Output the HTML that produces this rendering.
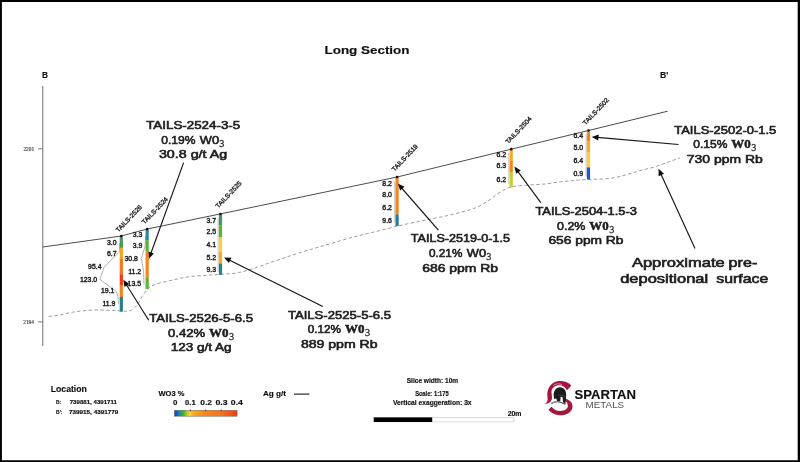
<!DOCTYPE html>
<html><head><meta charset="utf-8">
<style>
html,body{margin:0;padding:0;background:#fff;}
body{width:800px;height:462px;overflow:hidden;}
svg{display:block;font-family:"Liberation Sans",sans-serif;}
.ann{font-size:11.7px;fill:#1c1c1c;stroke:#1c1c1c;stroke-width:0.6px;}
.ser{font-family:"Liberation Serif",serif;}
.val{font-size:6.9px;fill:#222;stroke:#222;stroke-width:0.42px;text-anchor:end;}
.hn{font-size:6.4px;fill:#222;stroke:#222;stroke-width:0.36px;}
.b{font-weight:bold;fill:#111;stroke:#111;stroke-width:0.15px;}
.ptr{stroke:#151515;stroke-width:1.15;fill:none;}
</style></head>
<body>
<svg width="800" height="462" viewBox="0 0 800 462">
<defs>
<linearGradient id="cb" x1="0" x2="1" y1="0" y2="0">
<stop offset="0" stop-color="#0a48d6"/><stop offset="0.04" stop-color="#0a5ad0"/><stop offset="0.09" stop-color="#1f9a7a"/><stop offset="0.14" stop-color="#3fae2e"/><stop offset="0.2" stop-color="#b5cc2a"/><stop offset="0.245" stop-color="#f7d22c"/><stop offset="0.3" stop-color="#fbae20"/><stop offset="0.45" stop-color="#fa8c1a"/><stop offset="0.75" stop-color="#f8701a"/><stop offset="1" stop-color="#f23c10"/>
</linearGradient>
<filter id="bl" x="0" y="0" width="800" height="462" filterUnits="userSpaceOnUse"><feGaussianBlur stdDeviation="0.3"/></filter>
</defs>
<rect x="0" y="0" width="800" height="462" fill="#fff"/>
<g filter="url(#bl)">

<text class="b" x="324.5" y="54.1" font-size="11.7" stroke="#111" stroke-width="0.55" textLength="85" lengthAdjust="spacingAndGlyphs">Long Section</text>
<text class="b" x="42.1" y="77.7" font-size="8.7" stroke-width="0.3" textLength="6" lengthAdjust="spacingAndGlyphs">B</text>
<text class="b" x="660.1" y="77.7" font-size="8.7" stroke-width="0.3">B'</text>
<path d="M42.7,86 V346" stroke="#969696" stroke-width="1.35" fill="none"/>
<path d="M38,148.8 H42.7 M38,321.9 H42.7" stroke="#555" stroke-width="0.8" fill="none"/>
<text class="ser" x="23.4" y="150.7" font-size="6" fill="#333" stroke="#333" stroke-width="0.15" textLength="10.8" lengthAdjust="spacingAndGlyphs">2201</text>
<text class="ser" x="23.3" y="324" font-size="6" fill="#333" stroke="#333" stroke-width="0.15" textLength="10.6" lengthAdjust="spacingAndGlyphs">2194</text>
<path d="M42.8,247.0 L121.3,236.0 L147.2,229.0 L220.5,213.9 L397.1,177.0 L511.2,149.2 L588.5,130.5 L667.7,111.2" stroke="#383838" stroke-width="0.9" fill="none" stroke-linejoin="round"/>
<path d="M48.6,316.4 C50.5,316.2 56.0,315.7 60.0,315.0 C64.0,314.3 68.3,312.9 72.5,312.2 C76.7,311.5 80.4,311.0 85.0,310.6 C89.6,310.2 95.0,310.0 100.0,310.0 C105.0,310.0 110.4,310.3 115.0,310.5 C119.6,310.7 124.4,311.5 127.5,311.2 C130.6,310.9 131.9,310.1 133.8,308.6 C135.7,307.2 137.1,305.0 138.8,302.5 C140.5,300.0 141.9,296.4 143.8,293.8 C145.7,291.2 147.3,288.8 150.0,287.0 C152.7,285.2 155.8,284.2 160.0,283.0 C164.2,281.8 170.0,280.6 175.0,279.5 C180.0,278.4 184.2,277.4 190.0,276.6 C195.8,275.9 203.3,275.5 210.0,275.0 C216.7,274.5 225.0,274.1 230.0,273.7 C235.0,273.2 235.8,273.2 240.0,272.3 C244.2,271.4 250.0,269.6 255.0,268.0 C260.0,266.4 265.0,264.4 270.0,262.7 C275.0,261.0 280.0,259.3 285.0,257.6 C290.0,255.9 295.0,254.2 300.0,252.6 C305.0,251.0 310.0,249.7 315.0,248.2 C320.0,246.7 323.8,245.6 330.0,243.8 C336.2,242.0 345.8,239.1 352.5,237.3 C359.2,235.5 362.6,234.8 370.0,233.0 C377.4,231.2 388.7,228.2 397.0,226.2 C405.3,224.2 413.7,222.5 420.0,221.2 C426.3,219.9 430.0,219.2 435.0,218.2 C440.0,217.2 445.0,216.2 450.0,215.0 C455.0,213.8 460.4,212.5 465.0,211.2 C469.6,209.9 473.8,208.7 477.5,207.0 C481.2,205.3 484.2,203.4 487.5,201.2 C490.8,199.0 494.4,195.9 497.5,193.8 C500.6,191.7 503.3,190.1 506.2,188.8 C509.1,187.6 511.0,186.9 515.0,186.3 C519.0,185.7 525.0,185.4 530.0,185.0 C535.0,184.6 540.2,184.5 545.0,184.0 C549.8,183.5 554.6,182.5 558.8,182.0 C563.0,181.5 566.9,181.1 570.0,180.8 C573.1,180.5 574.4,180.3 577.5,180.1 C580.6,179.9 584.7,179.6 588.8,179.4 C592.9,179.2 597.5,179.3 601.9,179.0 C606.3,178.7 610.6,178.4 615.0,177.6 C619.4,176.8 623.7,175.4 628.1,174.2 C632.5,173.0 636.6,171.6 641.3,170.3 C646.0,169.0 651.3,168.0 656.3,166.4 C661.3,164.8 667.3,162.4 671.3,161.0 C675.2,159.6 678.5,158.3 680.0,157.8" stroke="#8e8e8e" stroke-width="0.85" stroke-dasharray="3.5 2.3" fill="none"/>
<path d="M119.6,243 L119.6,251.6 L104.1,267.2 L99.9,279.3 L116.3,291.5 L118,296.7 L118.4,303.8" stroke="#a2a2a2" stroke-width="0.85" fill="none" stroke-linejoin="round"/>
<path d="M145.5,236 L145.3,245.5 L141.3,258.5 L143.6,270.7 L144,284.5" stroke="#a2a2a2" stroke-width="0.85" fill="none" stroke-linejoin="round"/>
<path d="M218.1,218.0 V271.6" stroke="#b4b4b4" stroke-width="0.8" fill="none"/>
<path d="M394.7,180.8 V222.8" stroke="#b4b4b4" stroke-width="0.8" fill="none"/>
<path d="M508.8,153.0 V184.4" stroke="#b4b4b4" stroke-width="0.8" fill="none"/>
<path d="M586.1,134.5 V176.3" stroke="#b4b4b4" stroke-width="0.8" fill="none"/>
<rect x="119.72" y="237.2" width="3.2" height="10.7" fill="#3f9a5a"/>
<rect x="119.72" y="247.7" width="3.2" height="11.6" fill="#fba31e"/>
<rect x="119.72" y="259.1" width="3.2" height="15.3" fill="#f7751e"/>
<rect x="119.72" y="274.2" width="3.2" height="11.5" fill="#ee3a1a"/>
<rect x="119.72" y="285.5" width="3.2" height="11.6" fill="#f6841c"/>
<rect x="119.72" y="296.9" width="3.2" height="14.8" fill="#23808f"/>
<circle cx="121.3" cy="236.2" r="1.35" fill="#111"/>
<text class="hn" transform="translate(118.5,232.6) rotate(-46.5)" textLength="34.5" lengthAdjust="spacingAndGlyphs">TAILS-2526</text>
<rect x="145.57" y="230.0" width="3.2" height="10.5" fill="#2e8a98"/>
<rect x="145.57" y="240.3" width="3.2" height="11.4" fill="#5fb22f"/>
<rect x="145.57" y="251.5" width="3.2" height="26.7" fill="#f6841c"/>
<rect x="145.57" y="278.0" width="3.2" height="10.9" fill="#5fb22f"/>
<circle cx="147.2" cy="229.1" r="1.35" fill="#111"/>
<text class="hn" transform="translate(144.5,224.6) rotate(-46.5)" textLength="34.5" lengthAdjust="spacingAndGlyphs">TAILS-2524</text>
<rect x="218.88" y="215.0" width="3.2" height="10.5" fill="#3f9a5a"/>
<rect x="218.88" y="225.3" width="3.2" height="12.1" fill="#5fb22f"/>
<rect x="218.88" y="237.2" width="3.2" height="15.0" fill="#fccf30"/>
<rect x="218.88" y="252.0" width="3.2" height="11.7" fill="#fbab1e"/>
<rect x="218.88" y="263.5" width="3.2" height="11.3" fill="#23808f"/>
<circle cx="220.5" cy="214.0" r="1.35" fill="#111"/>
<text class="hn" transform="translate(218.3,208.6) rotate(-46.5)" textLength="34.5" lengthAdjust="spacingAndGlyphs">TAILS-2525</text>
<rect x="395.48" y="177.8" width="3.2" height="36.8" fill="#f6841c"/>
<rect x="395.48" y="214.4" width="3.2" height="11.6" fill="#23808f"/>
<circle cx="397.1" cy="177.0" r="1.35" fill="#111"/>
<text class="hn" transform="translate(394.6,171.8) rotate(-46.5)" textLength="34.5" lengthAdjust="spacingAndGlyphs">TAILS-2519</text>
<rect x="509.62" y="150.0" width="3.2" height="10.7" fill="#fbab1e"/>
<rect x="509.62" y="160.5" width="3.2" height="11.7" fill="#f6841c"/>
<rect x="509.62" y="172.0" width="3.2" height="15.6" fill="#c5cf2f"/>
<circle cx="511.2" cy="149.2" r="1.35" fill="#111"/>
<text class="hn" transform="translate(508.2,144.2) rotate(-46.5)" textLength="34.5" lengthAdjust="spacingAndGlyphs">TAILS-2504</text>
<rect x="586.88" y="131.5" width="3.2" height="9.9" fill="#f6841c"/>
<rect x="586.88" y="141.2" width="3.2" height="11.0" fill="#fbab1e"/>
<rect x="586.88" y="152.0" width="3.2" height="15.6" fill="#fccf30"/>
<rect x="586.88" y="167.4" width="3.2" height="12.1" fill="#1d57cf"/>
<circle cx="588.5" cy="130.5" r="1.35" fill="#111"/>
<text class="hn" transform="translate(585.6,125.4) rotate(-46.5)" textLength="34.5" lengthAdjust="spacingAndGlyphs">TAILS-2502</text>
<g class="val">
<text x="116.5" y="244.8">3.0</text>
<text x="116.5" y="256.4">6.7</text>
<text x="101.5" y="268.9">95.4</text>
<text x="97.2" y="281.9">123.0</text>
<text x="114.4" y="293.4">19.1</text>
<text x="115.4" y="306.4">11.9</text>
<text x="142.4" y="237.1">3.3</text>
<text x="142.4" y="248.4">3.9</text>
<text x="137.9" y="261.4">30.8</text>
<text x="141.2" y="274.4">11.2</text>
<text x="141.0" y="285.6">13.5</text>
<text x="216.1" y="222.5">3.7</text>
<text x="216.1" y="234.0">2.5</text>
<text x="216.1" y="246.9">4.1</text>
<text x="216.1" y="260.1">5.2</text>
<text x="216.1" y="272.1">9.3</text>
<text x="391.9" y="185.8">8.2</text>
<text x="391.9" y="196.9">8.0</text>
<text x="391.9" y="210.0">6.2</text>
<text x="391.9" y="223.1">9.6</text>
<text x="506.0" y="157.4">6.2</text>
<text x="506.0" y="168.2">6.3</text>
<text x="506.0" y="181.8">6.2</text>
<text x="583.0" y="137.9">6.4</text>
<text x="583.0" y="149.9">5.0</text>
<text x="583.0" y="162.9">6.4</text>
<text x="583.0" y="175.8">0.9</text>
</g>
<path class="ptr" d="M183.6,162.6 L150.9,253.3"/>
<path d="M148.9,258.8 L148.5,251.4 L153.9,253.4 Z" fill="#111"/>
<path class="ptr" d="M148.7,320.2 L126.4,284.7"/>
<path d="M123.3,279.8 L129.4,284.0 L124.5,287.1 Z" fill="#111"/>
<path class="ptr" d="M322.8,306.6 L229.3,260.0"/>
<path d="M224.1,257.4 L231.5,257.8 L228.9,263.0 Z" fill="#111"/>
<path class="ptr" d="M438.4,230.2 L401.6,188.0"/>
<path d="M397.8,183.6 L404.5,186.8 L400.1,190.6 Z" fill="#111"/>
<path class="ptr" d="M540.8,202.7 L517.8,171.3"/>
<path d="M514.4,166.6 L520.8,170.4 L516.1,173.8 Z" fill="#111"/>
<path class="ptr" d="M678.5,144.5 L597.5,137.4"/>
<path d="M591.7,136.9 L598.7,134.6 L598.2,140.4 Z" fill="#111"/>
<path class="ptr" d="M695.0,248.5 L660.9,174.1"/>
<path d="M658.5,168.8 L664.0,173.8 L658.7,176.2 Z" fill="#111"/>
<g class="ann">
<text x="146.2" y="129.3" textLength="94.0" lengthAdjust="spacingAndGlyphs">TAILS-2524-3-5</text>
<text x="161.2" y="143.6" textLength="34.2" lengthAdjust="spacingAndGlyphs">0.19%</text>
<text x="199.8" y="143.6" textLength="19.2" lengthAdjust="spacingAndGlyphs">W0</text>
<text class="ser" x="219.3" y="146.5" font-size="10.2" stroke-width="0.3" fill="#333" stroke="#333">3</text>
<text x="158.9" y="158.2" textLength="68.3" lengthAdjust="spacingAndGlyphs">30.8 g/t Ag</text>
<text x="674.3" y="133.6" textLength="101.9" lengthAdjust="spacingAndGlyphs">TAILS-2502-0-1.5</text>
<text x="693.3" y="148.2" textLength="34.1" lengthAdjust="spacingAndGlyphs">0.15%</text>
<text class="ser" x="731.3" y="148.2" font-weight="bold" font-size="13.2" stroke-width="0.5" textLength="19.4" lengthAdjust="spacingAndGlyphs">W0</text>
<text class="ser" x="751.3" y="151.1" font-size="10.2" stroke-width="0.3" fill="#333" stroke="#333">3</text>
<text x="686.8" y="162.8" textLength="75.9" lengthAdjust="spacingAndGlyphs">730 ppm Rb</text>
<text x="535.4" y="215.2" textLength="101.6" lengthAdjust="spacingAndGlyphs">TAILS-2504-1.5-3</text>
<text x="557.0" y="229.8" textLength="28.4" lengthAdjust="spacingAndGlyphs">0.2%</text>
<text class="ser" x="589.3" y="229.8" font-weight="bold" font-size="13.2" stroke-width="0.5" textLength="19.4" lengthAdjust="spacingAndGlyphs">W0</text>
<text class="ser" x="609.3" y="232.7" font-size="10.2" stroke-width="0.3" fill="#333" stroke="#333">3</text>
<text x="548.4" y="244.4" textLength="75.1" lengthAdjust="spacingAndGlyphs">656 ppm Rb</text>
<text x="410.8" y="242.1" textLength="99.1" lengthAdjust="spacingAndGlyphs">TAILS-2519-0-1.5</text>
<text x="429.0" y="257.2" textLength="33.4" lengthAdjust="spacingAndGlyphs">0.21%</text>
<text x="466.8" y="257.2" textLength="19.2" lengthAdjust="spacingAndGlyphs">W0</text>
<text class="ser" x="486.3" y="260.1" font-size="10.2" stroke-width="0.3" fill="#333" stroke="#333">3</text>
<text x="422.2" y="271.8" textLength="75.9" lengthAdjust="spacingAndGlyphs">686 ppm Rb</text>
<text x="149.2" y="322.4" textLength="103.8" lengthAdjust="spacingAndGlyphs">TAILS-2526-5-6.5</text>
<text x="168.1" y="337.2" textLength="37.1" lengthAdjust="spacingAndGlyphs">0.42%</text>
<text class="ser" x="209.1" y="337.2" font-weight="bold" font-size="13.2" stroke-width="0.5" textLength="19.4" lengthAdjust="spacingAndGlyphs">W0</text>
<text class="ser" x="229.1" y="340.1" font-size="10.2" stroke-width="0.3" fill="#333" stroke="#333">3</text>
<text x="170.8" y="351.3" textLength="60.8" lengthAdjust="spacingAndGlyphs">123 g/t Ag</text>
<text x="287.9" y="318.8" textLength="103.1" lengthAdjust="spacingAndGlyphs">TAILS-2525-5-6.5</text>
<text x="307.7" y="333.4" textLength="33.4" lengthAdjust="spacingAndGlyphs">0.12%</text>
<text class="ser" x="345.0" y="333.4" font-weight="bold" font-size="13.2" stroke-width="0.5" textLength="19.4" lengthAdjust="spacingAndGlyphs">W0</text>
<text class="ser" x="365.0" y="336.3" font-size="10.2" stroke-width="0.3" fill="#333" stroke="#333">3</text>
<text x="300.9" y="348.0" textLength="76.7" lengthAdjust="spacingAndGlyphs">889 ppm Rb</text>
<text x="631.9" y="266.6" font-size="12.6" textLength="92.8" lengthAdjust="spacingAndGlyphs">Approximate</text>
<text x="728.6" y="266.6" font-size="12.6" textLength="28.7" lengthAdjust="spacingAndGlyphs">pre-</text>
<text x="620.2" y="283.1" font-size="12.6" textLength="88" lengthAdjust="spacingAndGlyphs">depositional</text>
<text x="716.2" y="283.1" font-size="12.6" textLength="52.1" lengthAdjust="spacingAndGlyphs">surface</text>
</g>
<text class="b" x="50.8" y="391.6" font-size="8.6" textLength="36" lengthAdjust="spacingAndGlyphs">Location</text>
<g class="b" font-size="4.9">
<text x="56.1" y="403.9">B:</text><text x="69.7" y="403.9" textLength="47.3" lengthAdjust="spacingAndGlyphs">739881, 4391711</text>
<text x="56.1" y="413.5">B':</text><text x="68.9" y="413.5" textLength="49.5" lengthAdjust="spacingAndGlyphs">739915, 4391779</text>
</g>
<text class="b" x="158.5" y="395.8" font-size="6.7" textLength="25.9" lengthAdjust="spacingAndGlyphs">WO3 %</text>
<g class="b" font-size="7.8" stroke-width="0.3">
<text x="172.9" y="405.1" textLength="4.4" lengthAdjust="spacingAndGlyphs">0</text>
<text x="185.1" y="405.1" textLength="10.6" lengthAdjust="spacingAndGlyphs">0.1</text>
<text x="200.3" y="405.1" textLength="11.7" lengthAdjust="spacingAndGlyphs">0.2</text>
<text x="215.4" y="405.1" textLength="12.1" lengthAdjust="spacingAndGlyphs">0.3</text>
<text x="230.8" y="405.1" textLength="12.1" lengthAdjust="spacingAndGlyphs">0.4</text>
</g>
<rect x="174.4" y="410.3" width="62.7" height="5.9" fill="url(#cb)" stroke="#666" stroke-width="0.5"/>
<path d="M190.4,409.2 V411.6 M205.8,409.2 V411.6 M221.2,409.2 V411.6" stroke="#333" stroke-width="0.6"/>
<text class="b" x="263" y="395.8" font-size="6.7" textLength="23" lengthAdjust="spacingAndGlyphs">Ag g/t</text>
<path d="M294,394.1 H309.4" stroke="#111" stroke-width="1.1"/>
<g class="b" font-size="6.3" stroke-width="0.28">
<text x="406.7" y="383.2" textLength="51.5" lengthAdjust="spacingAndGlyphs">Slice width: 10m</text>
<text x="415.2" y="395.5" textLength="33.6" lengthAdjust="spacingAndGlyphs">Scale: 1:175</text>
<text x="392.9" y="405.1" textLength="78.7" lengthAdjust="spacingAndGlyphs">Vertical exaggeration: 3x</text>
<text x="507.7" y="415.5" textLength="13.8" lengthAdjust="spacingAndGlyphs">20m</text>
</g>
<rect x="373.8" y="417.5" width="140.2" height="4.4" fill="#fff" stroke="#bbb" stroke-width="0.5"/>
<rect x="373.8" y="417.4" width="58.4" height="4.6" fill="#000"/>
<g transform="translate(538,376) scale(0.0952)">
<path d="M350,100 C320,65 270,50 225,52 C160,55 105,105 98,180 C95,220 110,245 95,270 C88,282 75,290 65,292 C100,296 135,280 145,245 C152,215 140,190 142,160 C146,125 180,98 225,98 C262,98 288,120 305,150 Z" fill="#a4173a"/>
<path d="M290,240 C335,250 365,285 362,325 C358,380 300,414 230,412 C180,410 135,385 110,355 L142,322 C165,350 195,367 232,367 C280,367 314,345 314,315 C314,285 295,262 270,250 Z" fill="#a4173a"/>
<path d="M165,212 C158,160 190,119 230,119 C272,121 296,155 296,196 L293,252 L287,302 L263,276 L259,224 L238,219 L234,264 L202,270 L192,236 L170,242 Z" fill="#1a1a1a"/>
<path d="M140,290 C180,262 235,264 282,298" stroke="#555" stroke-width="13" fill="none"/>
<path d="M150,284 C185,262 232,262 276,288" stroke="#ddd" stroke-width="3" fill="none"/>
<path d="M222,200 L288,214" stroke="#777" stroke-width="5" fill="none"/>
<path d="M160,100 C185,80 225,78 255,92" stroke="#fff" stroke-width="9" stroke-dasharray="5 4" fill="none"/>
</g>
<text class="b" x="574.5" y="398.6" stroke-width="0.4" font-size="13.4" textLength="61.4" lengthAdjust="spacingAndGlyphs">SPARTAN</text>
<text x="585.5" y="407.6" font-size="8.6" fill="#555" textLength="38.7" lengthAdjust="spacingAndGlyphs">METALS</text>
</g>
<path d="M0,0 H800 V462 H0 Z M1.9,2 V460.3 H797.7 V2 Z" fill="#000" fill-rule="evenodd"/>
</svg>
</body></html>
